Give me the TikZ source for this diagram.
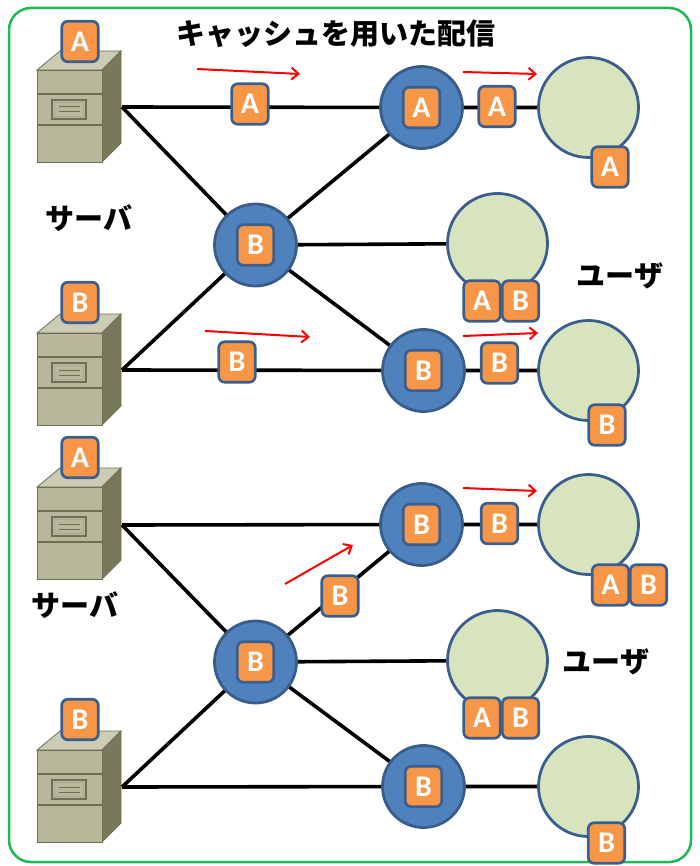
\documentclass[tikz,border=0pt]{standalone}
\usepackage{fontspec}
\newfontfamily\jpfont{Noto Sans CJK JP}
\newfontfamily\tagfont{Carlito}
\usetikzlibrary{arrows.meta}

\definecolor{framegreen}{HTML}{1DB954}
\definecolor{tagfill}{HTML}{F79646}
\definecolor{tagedge}{HTML}{3A5F8F}
\definecolor{routerfill}{HTML}{4F81BD}
\definecolor{routeredge}{HTML}{385D8A}
\definecolor{userfill}{HTML}{D7E4BD}
\definecolor{cabfront}{HTML}{B7B79B}
\definecolor{cabtop}{HTML}{CBCBB6}
\definecolor{cabside}{HTML}{78785A}
\definecolor{cabedge}{HTML}{6E6E52}

\tikzset{
  tag/.style={draw=tagedge, line width=2.7pt, fill=tagfill, rounded corners=6pt,
    minimum width=36.5pt, minimum height=40.5pt, inner sep=0pt, text=white,
    font=\tagfont\bfseries\fontsize{30}{30}\selectfont},
  router/.style={circle, draw=routeredge, line width=2.8pt, fill=routerfill,
    minimum size=82pt, inner sep=0pt},
  user/.style={circle, draw=tagedge, line width=2.8pt, fill=userfill,
    minimum size=100pt, inner sep=0pt},
  link/.style={line width=3.6pt, black},
  flow/.style={red, line width=2pt, -{Straight Barb[length=7pt,width=12pt]}},
  jptext/.style={font=\jpfont\bfseries\fontsize{29}{29}\selectfont},
  server/.pic={
    \filldraw[fill=cabtop, draw=cabedge, line width=0.8pt]
      (0,0) -- (23,-19) -- (84,-19) -- (65,0) -- cycle;
    \filldraw[fill=cabside, draw=cabedge, line width=0.8pt]
      (65,0) -- (84,-19) -- (84,73) -- (65,92) -- cycle;
    \filldraw[fill=cabfront, draw=cabedge, line width=0.8pt] (0,0) rectangle (65,92);
    \draw[cabedge, line width=1.2pt] (0,24) -- (65,24) (0,55) -- (65,55);
    \draw[cabedge, line width=1.2pt] (15,30) rectangle (49,49);
    \draw[cabedge!60, line width=0.8pt] (17.5,32.5) rectangle (46.5,46.5);
    \draw[cabedge, line width=1pt] (22,37) -- (43,37) (22,42) -- (43,42);
  }
}

\begin{document}
\begin{tikzpicture}[x=1pt, y=-1pt]
\useasboundingbox (0,0) rectangle (700,866);

% outer frame
\draw[framegreen, line width=2.5pt, rounded corners=22pt] (9,8) rectangle (691,862);

% headings
\node[jptext] (title) at (336,34) {キャッシュを用いた配信};
\node[jptext] (srvA) at (89,218) {サーバ};
\node[jptext] (usrA) at (620,276) {ユーザ};
\node[jptext] (srvB) at (75,605) {サーバ};
\node[jptext] (usrB) at (606,662) {ユーザ};

% server cabinets
\pic at (37,70) {server};
\pic at (37,333) {server};
\pic at (37,487) {server};
\pic at (37,750) {server};
\coordinate (s1) at (122,107);
\coordinate (s2) at (122,370);
\coordinate (s3) at (122,525);
\coordinate (s4) at (122,787);

% routers (cache nodes) and users
\path (421.5,107.5) coordinate (ra);
\path (255.5,245) coordinate (rb1);
\path (423.5,370.5) coordinate (rb2);
\path (421.5,524.5) coordinate (rb3);
\path (255.5,662) coordinate (rb4);
\path (423.5,786.5) coordinate (rb5);
\path (588.5,107.5) coordinate (u1);
\path (497.5,243.5) coordinate (u2);
\path (588.5,370.5) coordinate (u3);
\path (588.5,524.5) coordinate (u4);
\path (497.5,660.5) coordinate (u5);
\path (588.5,786.5) coordinate (u6);

% links
\draw[link] (s1) -- (ra) (s1) -- (rb1) (s2) -- (rb1) (s2) -- (rb2)
  (rb1) -- (ra) (rb1) -- (rb2) (rb1) -- (u2) (ra) -- (u1) (rb2) -- (u3);
\draw[link] (s3) -- (rb3) (s3) -- (rb4) (s4) -- (rb4) (s4) -- (rb5)
  (rb4) -- (rb3) (rb4) -- (rb5) (rb4) -- (u5) (rb3) -- (u4) (rb5) -- (u6);

\foreach \r in {ra,rb1,rb2,rb3,rb4,rb5} \node[router] (\r-c) at (\r) {};
\foreach \u in {u1,u2,u3,u4,u5,u6} \node[user] (\u-c) at (\u) {};

% content tags inside cache nodes
\node[tag] (ra-t) at (ra) {A};
\node[tag] (rb1-t) at (rb1) {B};
\node[tag] (rb2-t) at (rb2) {B};
\node[tag] (rb3-t) at (rb3) {B};
\node[tag] (rb4-t) at (rb4) {B};
\node[tag] (rb5-t) at (rb5) {B};

% content tags on servers
\node[tag] (s1-t) at (80,41.5) {A};
\node[tag] (s2-t) at (80,302.5) {B};
\node[tag] (s3-t) at (80,457.5) {A};
\node[tag] (s4-t) at (80,719.5) {B};

% content tags in transit
\node[tag] (m1) at (250,104) {A};
\node[tag] (m2) at (497,106.5) {A};
\node[tag] (m3) at (237,362) {B};
\node[tag] (m4) at (499.5,363) {B};
\node[tag] (m5) at (340,596) {B};
\node[tag] (m6) at (499.5,523.5) {B};

% content tags held by users
\node[tag] (u1-a) at (610,167) {A};
\node[tag] (u2-a) at (482,301) {A};
\node[tag] (u2-b) at (520.5,301) {B};
\node[tag] (u3-b) at (607,425) {B};
\node[tag] (u4-a) at (610.5,585) {A};
\node[tag] (u4-b) at (648.5,585) {B};
\node[tag] (u5-a) at (482,718) {A};
\node[tag] (u5-b) at (520.5,718) {B};
\node[tag] (u6-b) at (606.5,843) {B};

% direction of delivery
\draw[flow] (197,69) -- (300,74);
\draw[flow] (463,72) -- (537,74);
\draw[flow] (205,331) -- (310,337);
\draw[flow] (463,336) -- (538,333);
\draw[flow] (285,584) -- (353,545);
\draw[flow] (463,488) -- (537,491);
\end{tikzpicture}
\end{document}
